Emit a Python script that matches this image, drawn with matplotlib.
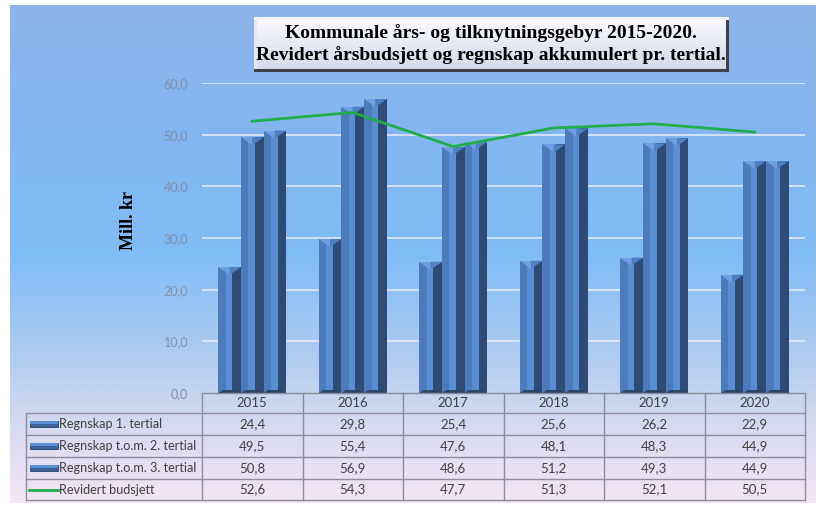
import numpy as np
import matplotlib
matplotlib.use("Agg")
import matplotlib.pyplot as plt
from matplotlib.patches import Polygon, Rectangle
from matplotlib.lines import Line2D

# ---------------- data ----------------
years = ["2015", "2016", "2017", "2018", "2019", "2020"]
series_names = ["Regnskap 1. tertial", "Regnskap t.o.m. 2. tertial",
                "Regnskap t.o.m. 3. tertial", "Revidert budsjett"]
t1 = [24.4, 29.8, 25.4, 25.6, 26.2, 22.9]
t2 = [49.5, 55.4, 47.6, 48.1, 48.3, 44.9]
t3 = [50.8, 56.9, 48.6, 51.2, 49.3, 44.9]
budget = [52.6, 54.3, 47.7, 51.3, 52.1, 50.5]
yticks = [0, 10, 20, 30, 40, 50, 60]
title_lines = ["Kommunale års- og tilknytningsgebyr 2015-2020.",
               "Revidert årsbudsjett og regnskap akkumulert pr. tertial."]
ylabel = "Mill. kr"

W, H = 822, 511
fig = plt.figure(figsize=(W / 100, H / 100), dpi=100)
fig.patch.set_facecolor("white")

def fx(px):
    return px / W

def fy(py):
    return 1 - py / H

# ---------------- background gradient ----------------
bg = fig.add_axes([fx(10), fy(503), fx(815) - fx(10), fy(5) - fy(503)], zorder=-10)
stops_y = [0.0, 0.25, 0.5, 0.72, 0.82, 0.9, 1.0]
stops_c = [(141, 180, 232), (132, 182, 240), (128, 188, 246), (178, 205, 240),
           (208, 216, 240), (226, 222, 242), (244, 230, 242)]
n = 400
yy = np.linspace(0, 1, n)
grad = np.zeros((n, 1, 3))
for k in range(3):
    grad[:, 0, k] = np.interp(yy, stops_y, [c[k] for c in stops_c]) / 255
bg.imshow(grad, aspect="auto", extent=[0, 1, 1, 0])
bg.set_xlim(0, 1)
bg.set_ylim(1, 0)
bg.axis("off")

# ---------------- main axes ----------------
ax = fig.add_axes([fx(202), fy(393), fx(805) - fx(202), fy(83) - fy(393)])
ax.patch.set_alpha(0)
ax.set_ylim(0, 60)
x = np.arange(len(years))
ax.set_xlim(-0.5, len(years) - 0.5)
for s in ax.spines.values():
    s.set_visible(False)
ax.set_yticks(yticks)
ax.set_yticklabels([f"{v:.1f}".replace(".", ",") for v in yticks],
                   fontsize=9, color="#8090a8", family="Lato")
ax.tick_params(axis="y", length=0, pad=10)
ax.set_xticks([])
for v in yticks[1:]:
    ax.axhline(v, color="#e2e9f5", lw=1.2, zorder=0)

bw = 0.225
offsets = [-bw, 0, bw]
px_per_unit = 310 / 60.0
for off, vals in zip(offsets, [t1, t2, t3]):
    bars = ax.bar(x + off, vals, width=bw, color="#4d7aba", zorder=2, linewidth=0)
    for r in bars:
        x0 = r.get_x(); w = r.get_width(); h = r.get_height(); x1 = x0 + w
        xc = x0 + w / 2
        d = 8 / px_per_unit
        b = 3 / px_per_unit
        ax.add_patch(Rectangle((x0 + 0.62 * w, 0), 0.38 * w, h, color="#2e4b76", zorder=3, lw=0))
        ax.add_patch(Rectangle((x0 + 0.33 * w, 0), 0.29 * w, h, color="#5a8ed4", zorder=3, lw=0))
        ax.add_patch(Polygon([(x0, h), (xc, h), (xc, h - d)], closed=True,
                             color="#6f9fe2", zorder=4, lw=0))
        ax.add_patch(Polygon([(xc, h), (x1, h), (xc, h - d)], closed=True,
                             color="#4f80c4", zorder=4, lw=0))
        ax.add_patch(Polygon([(x0, 0), (x1, 0), (x1 - 0.2 * w, b), (x0 + 0.2 * w, b)],
                             closed=True, color="#2a4468", zorder=4, lw=0))

ax.plot(x, budget, color="#1fae4b", lw=2.0, zorder=5)

# y label
fig.text(fx(128), fy(221), ylabel, rotation=90, ha="center", va="center",
         fontsize=13, fontweight="bold", family="Liberation Serif")

# ---------------- title box ----------------
tb = fig.add_axes([fx(255), fy(70), fx(727) - fx(255), fy(18) - fy(70)], zorder=5)
tgrad = np.zeros((50, 1, 3))
ty = np.linspace(0, 1, 50)
for k, (a, c) in enumerate(zip((250, 250, 255), (212, 218, 232))):
    tgrad[:, 0, k] = (a + (c - a) * ty) / 255
tb.imshow(tgrad, aspect="auto", extent=[0, 1, 1, 0])
tb.set_xlim(0, 1); tb.set_ylim(1, 0)
tb.set_xticks([]); tb.set_yticks([])
for side, col in [("top", "#f4f4f8"), ("left", "#e8e8f0"), ("right", "#404048"), ("bottom", "#404048")]:
    tb.spines[side].set_color(col)
    tb.spines[side].set_linewidth(2.2)
tb.text(0.5, 0.71, title_lines[0], ha="center", va="center", fontsize=14,
        fontweight="bold", family="Liberation Serif", transform=tb.transAxes)
tb.text(0.5, 0.28, title_lines[1], ha="center", va="center", fontsize=14,
        fontweight="bold", family="Liberation Serif", transform=tb.transAxes)

# ---------------- data table ----------------
lc = "#8c8c9c"
col_edges = [202 + k * (805 - 202) / len(years) for k in range(len(years) + 1)]
row_edges = [393, 413, 435, 457, 479, 500]
fig.add_artist(Line2D([fx(202), fx(805)], [fy(393), fy(393)], color=lc, lw=1.0))
for ry in row_edges[1:]:
    fig.add_artist(Line2D([fx(26), fx(805)], [fy(ry), fy(ry)], color=lc, lw=1.0))
for cx in col_edges:
    fig.add_artist(Line2D([fx(cx), fx(cx)], [fy(393), fy(500)], color=lc, lw=1.0))
fig.add_artist(Line2D([fx(26), fx(26)], [fy(413), fy(500)], color=lc, lw=1.0))

tfont = dict(fontsize=9.5, color="#404040", family="Lato")
lfont = dict(fontsize=9.1, color="#404040", family="Lato")
for j, yr in enumerate(years):
    cxm = (col_edges[j] + col_edges[j + 1]) / 2
    fig.text(fx(cxm), fy((row_edges[0] + row_edges[1]) / 2), yr, ha="center", va="center", **tfont)
all_series = [t1, t2, t3, budget]
for i, (name, vals) in enumerate(zip(series_names, all_series)):
    rym = (row_edges[i + 1] + row_edges[i + 2]) / 2
    for j, v in enumerate(vals):
        cxm = (col_edges[j] + col_edges[j + 1]) / 2
        fig.text(fx(cxm), fy(rym), f"{v:.1f}".replace(".", ","), ha="center", va="center", **tfont)
    fig.text(fx(59), fy(rym), name, ha="left", va="center", **lfont)
    if i < 3:
        fig.add_artist(Rectangle((fx(30), fy(rym + 3)), fx(58) - fx(30), fy(rym - 3) - fy(rym + 3),
                                 facecolor="#3a6098", edgecolor="#2a4468", lw=0.6,
                                 transform=fig.transFigure))
        fig.add_artist(Rectangle((fx(30), fy(rym - 0.5)), fx(58) - fx(30), fy(rym - 3) - fy(rym - 0.5),
                                 facecolor="#5a8ed4", lw=0, transform=fig.transFigure))
    else:
        fig.add_artist(Line2D([fx(29), fx(58)], [fy(rym), fy(rym)], color="#1fae4b", lw=2.0))

fig.savefig("out.png", dpi=100)
